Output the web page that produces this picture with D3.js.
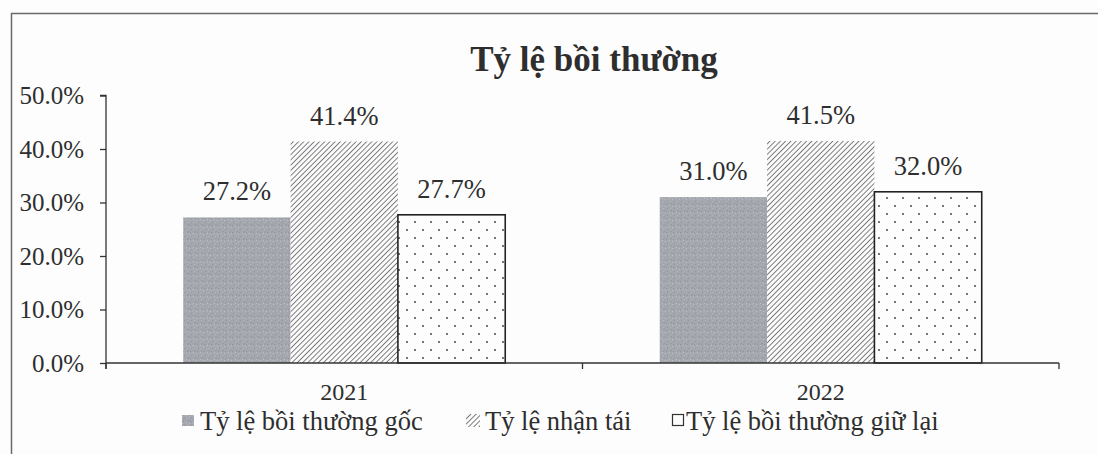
<!DOCTYPE html>
<html><head><meta charset="utf-8">
<script src="https://cdn.jsdelivr.net/npm/d3@7"></script>
<style>
html,body{margin:0;padding:0;background:#fdfdfd;}
svg{display:block;}
text{font-family:"Liberation Serif","Times New Roman",serif;fill:#2e2e2e;}
</style></head><body>
<svg id="c" width="1098" height="454"></svg>
<script>
const title = "Tỷ lệ bồi thường";
const categories = ["2021", "2022"];
const seriesNames = ["Tỷ lệ bồi thường gốc", "Tỷ lệ nhận tái", "Tỷ lệ bồi thường giữ lại"];
const goc = [27.2, 31.0];
const nhanTai = [41.4, 41.5];
const giuLai = [27.7, 32.0];
const yTicks = [0, 10, 20, 30, 40, 50];

const seriesValues = [goc, nhanTai, giuLai];
const svg = d3.select("#c");
const defs = svg.append("defs");

// gray noisy fill
const pg = defs.append("pattern").attr("id","pGray").attr("patternUnits","userSpaceOnUse").attr("width",7).attr("height",7);
pg.append("rect").attr("width",7).attr("height",7).attr("fill","#a4a7ad");
const speck = [[1,1,"#8e9299"],[4,2,"#bcbfc5"],[2,5,"#9397a0"],[5,5,"#b4b7bd"],[0,3,"#bfc2c8"],[6,0,"#92959c"],[3,3,"#aaaeb4"],[5,1,"#999ca3"]];
speck.forEach(s=>pg.append("rect").attr("x",s[0]).attr("y",s[1]).attr("width",1).attr("height",1).attr("fill",s[2]));

// hatch
const hs = 3.7;
const ph = defs.append("pattern").attr("id","pHatch").attr("patternUnits","userSpaceOnUse").attr("width",hs).attr("height",hs).attr("patternTransform","rotate(45)");
ph.append("rect").attr("width",hs).attr("height",hs).attr("fill","#fbfbfb");
ph.append("line").attr("x1",0).attr("y1",0).attr("x2",0).attr("y2",hs).attr("stroke","#4a4a4f").attr("stroke-width",1.4);

// dots
const pd = defs.append("pattern").attr("id","pDots").attr("patternUnits","userSpaceOnUse").attr("width",16).attr("height",16).attr("x",3).attr("y",2);
pd.append("rect").attr("width",16).attr("height",16).attr("fill","#fdfdfd");
pd.append("circle").attr("cx",4).attr("cy",4).attr("r",1.1).attr("fill","#555");
pd.append("circle").attr("cx",12).attr("cy",12).attr("r",1.1).attr("fill","#555");

const fills = ["url(#pGray)","url(#pHatch)","url(#pDots)"];
const strokes = ["none","none","#222"];

// frame
svg.append("path").attr("d","M11.5,454 V13.5 H1098").attr("fill","none").attr("stroke","#6a6a6a").attr("stroke-width",1.5);

const x0 = d3.scaleBand().domain(categories).range([106,1059]).paddingInner(0).paddingOuter(0);
const x1 = d3.scaleBand().domain(d3.range(3)).range([0,x0.bandwidth()]).paddingInner(0).paddingOuter(0.72);
const y = d3.scaleLinear().domain([0,50]).range([363,95.5]);

// title
svg.append("text").attr("x",594).attr("y",71).attr("text-anchor","middle")
  .style("font-size","35px").style("font-weight","bold").text(title);

// y axis
const ya = svg.append("g").attr("transform","translate(106,0)")
  .call(d3.axisLeft(y).tickValues(yTicks).tickSize(6).tickPadding(16).tickFormat(d=>d.toFixed(1)+"%"));
ya.select(".domain").attr("stroke","#333").attr("stroke-width",1.3).attr("d","M-6,95.5H0V369");
ya.selectAll(".tick line").attr("stroke","#333").attr("stroke-width",1.3);
ya.selectAll(".tick text").style("font-size","25px").attr("fill","#2e2e2e").style("font-family","Liberation Serif");

// bars
categories.forEach((c,ci)=>{
  seriesValues.forEach((vals,si)=>{
    const v = vals[ci];
    const bx = x0(c)+x1(si);
    svg.append("rect").attr("x",bx).attr("y",y(v)).attr("width",x1.bandwidth()).attr("height",y(0)-y(v))
      .attr("fill",fills[si]).attr("stroke",strokes[si]).attr("stroke-width",1.6);
    svg.append("text").attr("x",bx+x1.bandwidth()/2).attr("y",y(v)-17).attr("text-anchor","middle")
      .style("font-size","26.5px").text(v.toFixed(1)+"%");
  });
});

// x axis
const xa = svg.append("g").attr("transform","translate(0,363)");
xa.append("line").attr("x1",106).attr("x2",1059).attr("stroke","#333").attr("stroke-width",1.5);
const xTickPos = [x0.range()[0], ...categories.map(c=>x0(c)+x0.bandwidth())];
xTickPos.forEach(p=>xa.append("line").attr("x1",p).attr("x2",p).attr("y1",0).attr("y2",6).attr("stroke","#333").attr("stroke-width",1.3));
categories.forEach(c=>svg.append("text").attr("x",x0(c)+x0.bandwidth()/2).attr("y",400).attr("text-anchor","middle").style("font-size","24px").text(c));

// legend
const legX = [182, 466, 672];
const textX = [200, 485, 686];
seriesNames.forEach((n,i)=>{
  const g = svg.append("g");
  if(i===0) g.append("rect").attr("x",legX[i]).attr("y",415).attr("width",12).attr("height",11).attr("fill","url(#pGray)");
  if(i===1) g.append("rect").attr("x",legX[i]).attr("y",414).attr("width",14).attr("height",13).attr("fill","url(#pHatch)");
  if(i===2) g.append("rect").attr("x",legX[i]+0.5).attr("y",414.5).attr("width",11).attr("height",11).attr("fill","#fdfdfd").attr("stroke","#333").attr("stroke-width",1.2);
  g.append("text").attr("x",textX[i]).attr("y",430).style("font-size","26.5px").text(n);
});
</script>
</body></html>
